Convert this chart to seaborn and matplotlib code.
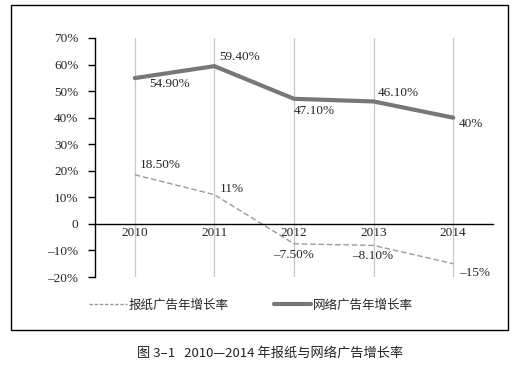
import matplotlib
matplotlib.use("Agg")
import matplotlib.pyplot as plt
import seaborn as sns
import pandas as pd
from matplotlib.lines import Line2D
from matplotlib.patches import Rectangle
from matplotlib.ticker import FuncFormatter

years = ["2010", "2011", "2012", "2013", "2014"]
newspaper = [18.5, 11.0, -7.5, -8.1, -15.0]
internet = [54.9, 59.4, 47.1, 46.1, 40.0]
newspaper_labels = ["18.50%", "11%", "\u22127.50%", "\u22128.10%", "\u221215%"]
internet_labels = ["54.90%", "59.40%", "47.10%", "46.10%", "40%"]
series_names = ["报纸广告年增长率", "网络广告年增长率"]
caption = "图 3\u20131   2010\u20142014 年报纸与网络广告增长率"

sns.set_theme(style="white")
serif = ["Liberation Serif", "DejaVu Serif"]
cjk = ["Noto Sans CJK SC", "DejaVu Sans"]
plt.rcParams["font.family"] = serif
plt.rcParams["axes.unicode_minus"] = False

fig = plt.figure(figsize=(5.2, 3.74), dpi=100)
ax = fig.add_axes([95 / 520, 1 - 277 / 374, (493 - 95) / 520, (277 - 38) / 374])

df = pd.DataFrame({"year": years, "np": newspaper, "net": internet})
sns.lineplot(data=df, x="year", y="np", ax=ax, color="#9a9a9a", lw=1.0,
             linestyle=(0, (4, 2)), sort=False)
sns.lineplot(data=df, x="year", y="net", ax=ax, color="#777777", lw=3.0, sort=False)

ax.set_xlim(-0.5, 4.5)
ax.set_ylim(-20, 70)
ax.set_yticks(range(-20, 71, 10))

def fmt(v, pos):
    v = int(round(v))
    if v == 0:
        return "0"
    if v < 0:
        return "\u2013%d%%" % (-v)
    return "%d%%" % v
ax.yaxis.set_major_formatter(FuncFormatter(fmt))

ax.set_xlabel("")
ax.set_ylabel("")
for s in ["top", "right"]:
    ax.spines[s].set_visible(False)
ax.spines["left"].set_color("black")
ax.spines["left"].set_linewidth(1.0)
ax.spines["bottom"].set_position(("data", 0))
ax.spines["bottom"].set_color("black")
ax.spines["bottom"].set_linewidth(1.0)
ax.tick_params(axis="y", direction="out", length=5, width=1, color="black",
               labelsize=9.5, pad=7, left=True)
ax.tick_params(axis="x", length=0, labelsize=9.5, pad=2)
for t in ax.get_yticklabels() + ax.get_xticklabels():
    t.set_fontfamily(serif)
ax.grid(axis="x", color="#c8c8c8", lw=0.9)
ax.grid(axis="y", visible=False)
ax.set_axisbelow(True)

# data labels (offsets in pixels)
net_off = [(14, -6, "left"), (5, 9, "left"), (0, -12, "left"), (4, 8.5, "left"), (6, -6, "left")]
np_off = [(5, 10, "left"), (5, 6, "left"), (-21, -11, "left"), (-22, -10.5, "left"), (6, -9, "left")]
for i, (v, lab) in enumerate(zip(internet, internet_labels)):
    dx, dy, ha = net_off[i]
    ax.annotate(lab.replace("\u2212", "\u2013"), (i, v), xytext=(dx, dy), textcoords="offset pixels",
                ha=ha, va="center", fontsize=9.5, family=serif)
for i, (v, lab) in enumerate(zip(newspaper, newspaper_labels)):
    dx, dy, ha = np_off[i]
    ax.annotate(lab.replace("\u2212", "\u2013"), (i, v), xytext=(dx, dy), textcoords="offset pixels",
                ha=ha, va="center", fontsize=9.5, family=serif)

handles = [Line2D([], [], color="#9a9a9a", lw=1.0, linestyle=(0, (2.5, 1.2))),
           Line2D([], [], color="#777777", lw=3.0)]
leg = fig.legend(handles, series_names, loc="center", bbox_to_anchor=(251 / 520, 1 - 305 / 374),
                 ncol=2, frameon=False, handlelength=3.0, handletextpad=0.15,
                 columnspacing=3.6, prop={"family": cjk, "size": 9})

fig.patches.append(Rectangle((11 / 520, 1 - 330 / 374), (508 - 11) / 520, (330 - 5) / 374,
                             transform=fig.transFigure, fill=False, edgecolor="black", lw=1.0))

fig.text(270 / 520, 1 - 353 / 374, caption, ha="center", va="center", fontsize=9.5,
         family=cjk, fontweight="medium", color="#222222")

fig.savefig("out.png", dpi=100)
